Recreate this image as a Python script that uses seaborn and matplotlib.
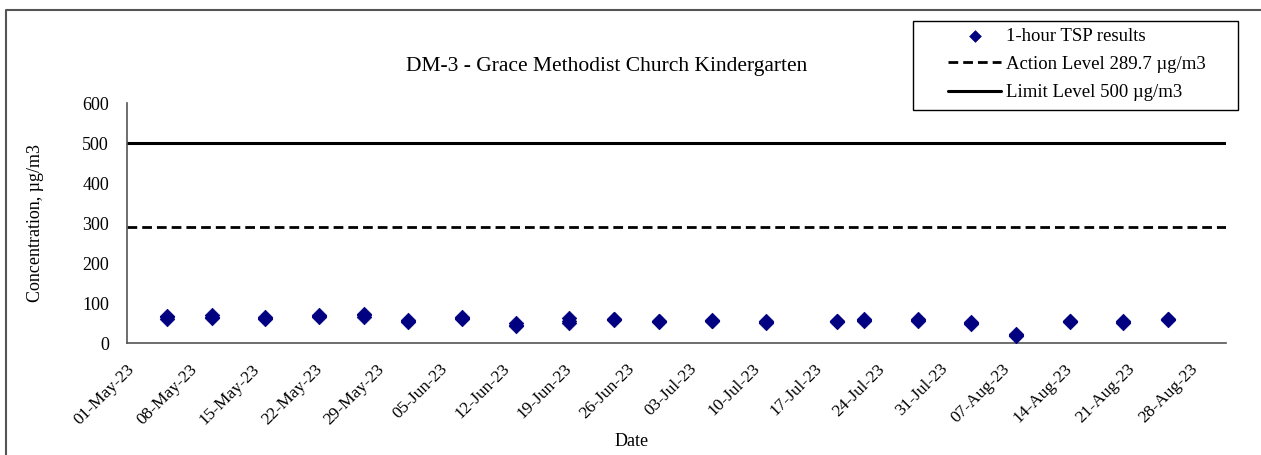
import matplotlib
matplotlib.use("Agg")
import matplotlib.pyplot as plt
import matplotlib.dates as mdates
import matplotlib.transforms as mtransforms
from matplotlib.lines import Line2D
from matplotlib.patches import Rectangle
import seaborn as sns
import pandas as pd

# ---- data ----
TITLE = "DM-3 - Grace Methodist Church Kindergarten"
sample_dates = ["2023-05-05", "2023-05-10", "2023-05-16", "2023-05-22", "2023-05-27",
                "2023-06-01", "2023-06-07", "2023-06-13", "2023-06-19", "2023-06-24",
                "2023-06-29", "2023-07-05", "2023-07-11", "2023-07-19", "2023-07-22",
                "2023-07-28", "2023-08-03", "2023-08-08", "2023-08-14", "2023-08-20",
                "2023-08-25"]
tsp_run1 = [60, 63, 59, 65, 66, 52, 60, 42, 50, 57, 52, 55, 50, 52, 56, 56, 47, 18, 52, 51, 58]
tsp_run2 = [64, 66, 62, 68, 69, 55, 63, 46, 56, 59, 54, 56, 53, 54, 58, 57, 50, 20, 54, 53, 59]
tsp_run3 = [68, 71, 65, 71, 72, 57, 66, 51, 62, 61, 56, 58, 56, 56, 59, 59, 52, 23, 55, 55, 61]
ACTION_LEVEL = 289.7
LIMIT_LEVEL = 500
series_labels = ["1-hour TSP results", "Action Level 289.7 \u00b5g/m3", "Limit Level 500 \u00b5g/m3"]
tick_dates = pd.date_range("2023-05-01", "2023-08-28", freq="7D")
x_start, x_end = "2023-05-01", "2023-09-01"
y_ticks = [0, 100, 200, 300, 400, 500, 600]

rows = []
for d, a, b, c in zip(sample_dates, tsp_run1, tsp_run2, tsp_run3):
    for v in (a, b, c):
        rows.append({"date": pd.Timestamp(d) + pd.Timedelta(hours=12), "conc": v})
df = pd.DataFrame(rows)

sns.set_theme(style="white")
plt.rcParams["font.family"] = ["Liberation Serif", "DejaVu Serif"]
plt.rcParams["text.color"] = "black"
plt.rcParams["axes.labelcolor"] = "black"

W, H = 1261, 455
fig = plt.figure(figsize=(W / 100, H / 100), dpi=100)
ax = fig.add_axes([127 / W, 1 - 343 / H, (1226 - 127) / W, (343 - 103) / H])

sns.scatterplot(data=df, x="date", y="conc", ax=ax, marker="D", s=55,
                color="#000080", edgecolor="#000080", linewidth=0.5,
                label=series_labels[0], legend=False, zorder=3)
ax.axhline(ACTION_LEVEL, color="black", lw=2, ls=(0, (3.5, 1.8)), label=series_labels[1])
ax.axhline(LIMIT_LEVEL, color="black", lw=2.2, ls="-", label=series_labels[2])

ax.set_xlim(pd.Timestamp(x_start), pd.Timestamp(x_end))
ax.set_ylim(0, 600)
ax.set_yticks(y_ticks)
ax.set_xticks(tick_dates)
ax.xaxis.set_major_formatter(mdates.DateFormatter("%d-%b-%y"))

for s in ["top", "right"]:
    ax.spines[s].set_visible(False)
for s in ["left", "bottom"]:
    ax.spines[s].set_color("#555555")
    ax.spines[s].set_linewidth(1.2)

ax.tick_params(axis="both", direction="out", length=4, width=1, color="#555555",
               labelcolor="black")
ax.tick_params(axis="y", pad=9, labelsize=13)
ax.tick_params(axis="x", pad=13, labelsize=12.5)
offset = mtransforms.ScaledTranslation(5 / 100, 0, fig.dpi_scale_trans)
for lab in ax.get_xticklabels():
    lab.set_rotation(45)
    lab.set_ha("right")
    lab.set_va("center")
    lab.set_rotation_mode("anchor")
    lab.set_transform(lab.get_transform() + offset)

ax.set_xlabel("Date", fontsize=13)
ax.xaxis.set_label_coords((632 - 127) / 1099, (343 - 441) / 240)
ax.xaxis.label.set_va("center")
ax.set_ylabel("Concentration, \u00b5g/m3", fontsize=13)
ax.yaxis.set_label_coords((36 - 127) / 1099, 0.5)
ax.yaxis.label.set_va("center")

ax.set_title(TITLE, fontsize=15.5, x=(607 - 127) / 1099, y=(343 - 66) / 240,
             va="center", color="black", pad=0)

# legend box (drawn separately) and legend entries
fig.add_artist(Rectangle((913 / W, 1 - 110 / H), (1238 - 913) / W, (110 - 21) / H,
                         transform=fig.transFigure, fill=True, facecolor="white",
                         edgecolor="black", lw=1.0, zorder=4))
handles, labels = ax.get_legend_handles_labels()
leg = fig.legend(handles, labels, loc="upper left",
                 bbox_to_anchor=(948 / W, 1 - 27.5 / H),
                 fontsize=13.5, frameon=False, handlelength=2.85, handletextpad=0.25,
                 labelspacing=0.6, borderpad=0, borderaxespad=0, scatterpoints=1,
                 markerscale=0.8)
leg.set_zorder(5)

# chart area border (left and top edges)
fig.add_artist(Line2D([6 / W, 6 / W, 1.0], [0.0, 1 - 10 / H, 1 - 10 / H],
                      transform=fig.transFigure, color="#555555", lw=1.5))

fig.savefig("out.png", dpi=100)
